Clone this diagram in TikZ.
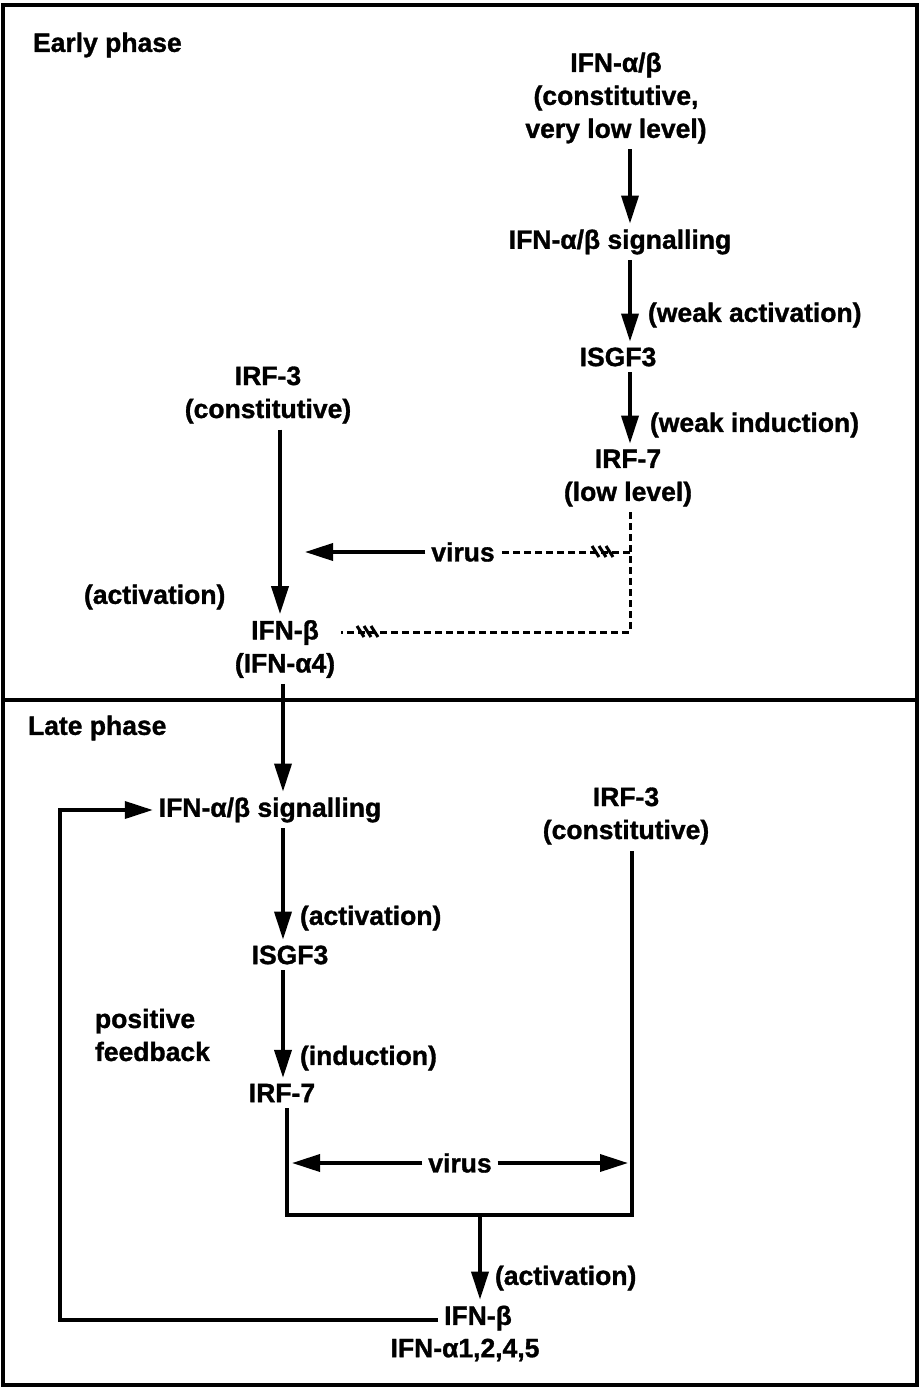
\documentclass[tikz,border=0pt]{standalone}
\usepackage{fontspec}
\setmainfont{Liberation Sans}[BoldFeatures={FakeBold=1.2}]
\usetikzlibrary{arrows.meta}
\begin{document}
\begin{tikzpicture}[x=1pt,y=-1pt,
  lbl/.style={font=\fontsize{26.5}{33}\selectfont\bfseries, inner sep=0pt, outer sep=6pt, align=center},
  note/.style={lbl, anchor=west, outer sep=0pt},
  arr/.style={line width=3.6pt, -{Triangle[length=28pt,width=17pt]}},
  ln/.style={line width=3.6pt},
  dsh/.style={line width=3pt, dash pattern=on 7pt off 4pt},
  hatch/.style={line width=3pt}]
\useasboundingbox (0,0) rectangle (920,1389);
\draw[line width=4pt] (3,5) rectangle (917,1385);
\draw[line width=3.5pt] (3,700) -- (917,700);
% columns
\coordinate (c1) at (630,0);
\coordinate (c2) at (280,0);
\coordinate (c3) at (283,0);
\coordinate (c4) at (287,0);
\coordinate (c5) at (632,0);
% early phase
\node[note] (early) at (33,45) {Early phase};
\node[lbl] (A1) at (616,98) {IFN-α/β\\(constitutive,\\very low level)};
\node[lbl] (A2) at (620,242) {IFN-α/β signalling};
\node[lbl] (A3) at (618,357) {ISGF3};
\node[lbl] (A4) at (628,478) {IRF-7\\(low level)};
\node[note] (wa) at (648,315) {(weak activation)};
\node[note] (wi) at (650,425) {(weak induction)};
\node[lbl] (B1) at (268,395) {IRF-3\\(constitutive)};
\node[lbl] (B2) at (285,649) {IFN-β\\(IFN-α4)};
\node[lbl] (V1) at (463,552) {virus};
\node[note] (act1) at (84,597) {(activation)};
\draw[arr] (A1.south -| c1) -- (A2.north -| c1);
\draw[arr] (A2.south -| c1) -- (A3.north -| c1);
\draw[arr] (A3.south -| c1) -- (A4.north -| c1);
\draw[arr] (B1.south -| c2) -- (B2.north -| c2);
\coordinate (v1end) at (305,552);
\draw[arr] (V1.west) -- (v1end);
\coordinate (d1) at (630,632);
\coordinate (d2) at (630,552);
\draw[dsh] (A4.south -| c1) -- (d1) -- (B2.east |- d1);
\draw[dsh] (d2) -- (V1.east);
% hatches
\foreach \x in {592,599,606} \draw[hatch] (\x,546) -- (\x+7,557);
\foreach \x in {357,364,371} \draw[hatch] (\x,626) -- (\x+7,637);
% late phase
\node[note] (late) at (28,728) {Late phase};
\node[lbl] (C1) at (270,810) {IFN-α/β signalling};
\node[lbl] (C2) at (290,955) {ISGF3};
\node[lbl] (C3) at (282,1093) {IRF-7};
\node[lbl] (D1) at (626,816) {IRF-3\\(constitutive)};
\node[note] (act2) at (300,918) {(activation)};
\node[note] (ind) at (300,1058) {(induction)};
\node[note, align=left] (pf) at (95,1035) {positive\\feedback};
\node[lbl] (V2) at (460,1163) {virus};
\node[note] (act3) at (495,1278) {(activation)};
\node[lbl] (E1) at (478,1318) {IFN-β};
\node[lbl] (E2) at (465,1350) {IFN-α1,2,4,5};
\draw[arr] (B2.south -| c3) -- (C1.north -| c3);
\draw[arr] (C1.south -| c3) -- (C2.north -| c3);
\draw[arr] (C2.south -| c3) -- (C3.north -| c3);
\coordinate (j1) at (287,1215);
\coordinate (j2) at (632,1215);
\coordinate (jm) at (480,1215);
\draw[ln] (C3.south -| c4) -- (j1) -- (j2) -- (D1.south -| c5);
\draw[arr] (jm) -- (E1.north -| jm);
\coordinate (v2l) at (292,1163);
\coordinate (v2r) at (628,1163);
\draw[arr] (V2.west) -- (v2l);
\draw[arr] (V2.east) -- (v2r);
\coordinate (f1) at (60,1320);
\coordinate (f2) at (60,810);
\draw[arr] (E1.west |- f1) -- (f1) -- (f2) -- (C1.west);
\end{tikzpicture}
\end{document}
